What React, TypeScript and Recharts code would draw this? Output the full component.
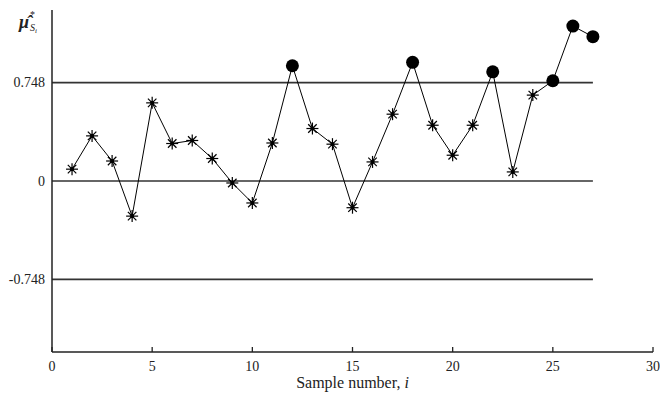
import { LineChart, Line, XAxis, YAxis, ReferenceLine } from "recharts"

const samples = [1, 2, 3, 4, 5, 6, 7, 8, 9, 10, 11, 12, 13, 14, 15, 16, 17, 18, 19, 20, 21, 22, 23, 24, 25, 26, 27]
const muHat = [
  0.09, 0.343, 0.152, -0.267, 0.594, 0.285, 0.308, 0.171, -0.015, -0.167, 0.289, 0.876, 0.399, 0.28, -0.203, 0.145,
  0.508, 0.902, 0.424, 0.196, 0.424, 0.83, 0.069, 0.653, 0.762, 1.178, 1.097,
]
const limit = 0.748
const xTicks = [0, 5, 10, 15, 20, 25, 30]
const yTicks = [-limit, 0, limit]
const lineEnd = 27

const data = samples.map((s, i) => ({ sample: s, mu: muHat[i] }))

const FONT = "Liberation Serif, DejaVu Serif, Times New Roman, serif"

function Marker(props: any) {
  const { cx, cy, payload, index } = props
  if (cx == null || cy == null) return null
  if (payload.mu > limit) {
    return <circle key={index} cx={cx} cy={cy} r={6.5} fill="#000" />
  }
  const r = 6
  const d = r * 0.707
  return (
    <g key={index} stroke="#000" strokeWidth={1.2}>
      <line x1={cx - r} y1={cy} x2={cx + r} y2={cy} />
      <line x1={cx} y1={cy - r} x2={cx} y2={cy + r} />
      <line x1={cx - d} y1={cy - d} x2={cx + d} y2={cy + d} />
      <line x1={cx - d} y1={cy + d} x2={cx + d} y2={cy - d} />
      <circle cx={cx} cy={cy} r={1.5} fill="#000" />
    </g>
  )
}

function XTick(props: any) {
  const { x, y, payload } = props
  return (
    <g>
      <line x1={x} x2={x} y1={y} y2={y - 5} stroke="#222" strokeWidth={1.3} />
      <text x={x} y={y + 19} textAnchor="middle" fontFamily={FONT} fontSize={14} fill="#222">
        {payload.value}
      </text>
    </g>
  )
}

function YTick(props: any) {
  const { x, y, payload } = props
  const v = payload.value
  const txt = v === 0 ? "0" : v > 0 ? "0.748" : "-0.748"
  return (
    <text x={x} y={y + 4.5} textAnchor="end" fontFamily={FONT} fontSize={14} fill="#222">
      {txt}
    </text>
  )
}

export default function App() {
  return (
    <div style={{ position: "absolute", left: 0, top: 0, background: "#fff", fontFamily: FONT }}>
      <LineChart width={660} height={396} data={data} margin={{ top: 10, right: 7, bottom: 0, left: 0 }}>
        <XAxis
          dataKey="sample"
          type="number"
          domain={[0, 30]}
          ticks={xTicks}
          interval={0}
          tickSize={0}
          tickMargin={0}
          tick={<XTick />}
          height={44}
          stroke="#222"
          strokeWidth={1.5}
          label={{
            content: (p: any) => {
              const vb = p.viewBox
              return (
                <text x={vb.x + vb.width / 2} y={vb.y + 36} textAnchor="middle" fontFamily={FONT} fontSize={16} fill="#222">
                  Sample number, <tspan fontStyle="italic">i</tspan>
                </text>
              )
            },
          }}
        />
        <YAxis
          type="number"
          domain={[-1.3, 1.3]}
          ticks={yTicks}
          interval={0}
          tickLine={false}
          tickSize={0}
          tickMargin={7}
          tick={<YTick />}
          width={52}
          stroke="#222"
          strokeWidth={1.5}
          label={{
            content: () => (
              <text x={19} y={28} fontFamily={FONT} fill="#222" fontSize={18} fontStyle="italic" fontWeight="bold">
                {"\u03bc\u0302"}
                <tspan fontSize={10} fontWeight="normal" fontStyle="normal" dx={1} dy={-10}>
                  *
                </tspan>
                <tspan fontSize={10} fontWeight="normal" dx={-5} dy={13}>
                  S
                </tspan>
                <tspan fontSize={7} fontWeight="normal" dy={2}>
                  i
                </tspan>
              </text>
            ),
          }}
        />
        {yTicks.map((t) => (
          <ReferenceLine
            key={t}
            segment={[
              { x: 0, y: t },
              { x: lineEnd, y: t },
            ]}
            stroke="#333"
            strokeWidth={1.6}
          />
        ))}
        <Line
          type="linear"
          dataKey="mu"
          stroke="#000"
          strokeWidth={1}
          dot={<Marker />}
          activeDot={false}
          isAnimationActive={false}
        />
      </LineChart>
    </div>
  )
}
